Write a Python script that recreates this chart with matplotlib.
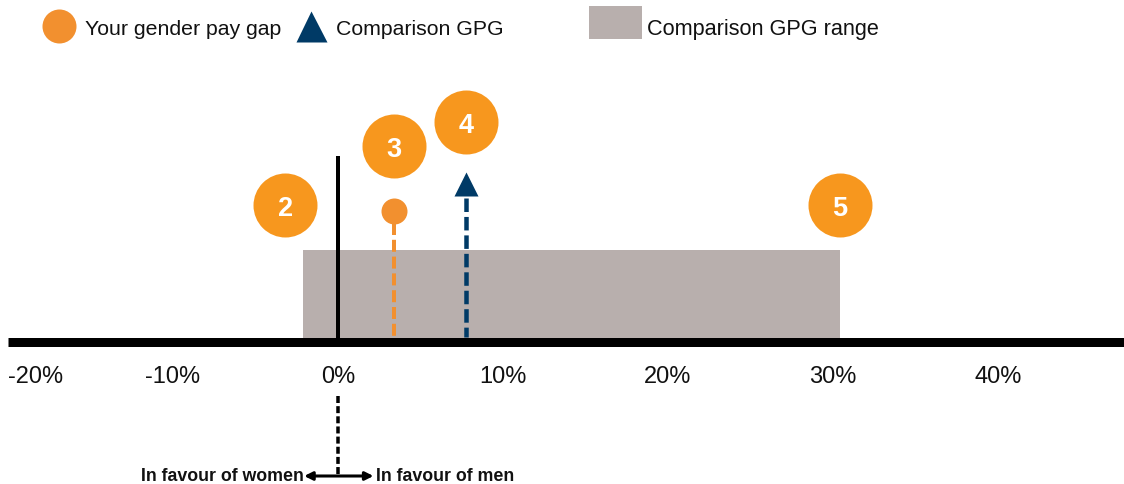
import matplotlib
matplotlib.use('Agg')
import matplotlib.pyplot as plt
from matplotlib.patches import Rectangle

# ---------------- data ----------------
tick_values = [-20, -10, 0, 10, 20, 30, 40]
tick_labels = ['-20%', '-10%', '0%', '10%', '20%', '30%', '40%']
your_gpg = 3.4
comparison_gpg = 7.75
comparison_range = [-2.1, 30.4]
legend_labels = ['Your gender pay gap', 'Comparison GPG', 'Comparison GPG range']
step_labels = ['2', '3', '4', '5']
direction_labels = ['In favour of women', 'In favour of men']

# ---------------- style ----------------
ORANGE = '#F7971E'
DOT_ORANGE = '#F2902F'
NAVY = '#003A66'
GREY = '#B8AFAD'
PT = 72 / 100.0  # px -> pt at dpi 100

plt.rcParams['font.family'] = ['Liberation Sans', 'DejaVu Sans']

W, H = 1124, 485
fig = plt.figure(figsize=(W / 100, H / 100), dpi=100)
ax = fig.add_axes([0, 0, 1, 1])
px_per_pct = 16.5
zero_px = 338
xmin, xmax = -zero_px / px_per_pct, (W - zero_px) / px_per_pct
ax.set_xlim(xmin, xmax)
ax.set_ylim(H, 0)
ax.axis('off')

# comparison range box
ax.add_patch(Rectangle((comparison_range[0], 251), comparison_range[1] - comparison_range[0],
                       342 - 251, facecolor=GREY, edgecolor='none', zorder=1))
# main axis line
ax.plot([tick_values[0], xmax], [342.5, 342.5], color='black', lw=9 * PT,
        solid_capstyle='butt', zorder=5)
# zero line
ax.plot([0, 0], [157, 340], color='black', lw=4 * PT, solid_capstyle='butt', zorder=3)

# your gpg
ax.plot([your_gpg, your_gpg], [224, 338], color=DOT_ORANGE, lw=4 * PT,
        dashes=(3, 1.2), dash_capstyle='butt', zorder=3)
ax.plot(your_gpg, 212, 'o', ms=26 * PT, color=DOT_ORANGE, mec='none', zorder=4)

# comparison gpg
ax.plot([comparison_gpg, comparison_gpg], [199, 338], color=NAVY, lw=4.5 * PT,
        dashes=(3, 1.1), dash_capstyle='butt', zorder=3)
ax.plot(comparison_gpg, 184.5, '^', ms=24 * PT, color=NAVY, mec='none', zorder=4)

# numbered step circles
step_x = [comparison_range[0] - 1.1, your_gpg, comparison_gpg, comparison_range[1]]
step_y = [206, 147, 123, 206]
for sx, sy, lab in zip(step_x, step_y, step_labels):
    ax.plot(sx, sy, 'o', ms=64 * PT, color=ORANGE, mec='none', zorder=6)
    ax.text(sx, sy + 10, lab, color='white', fontsize=19.5, fontweight='bold',
            ha='center', va='baseline', zorder=7)

# tick labels
for v, lab in zip(tick_values, tick_labels):
    ax.text(v, 383, lab, ha='left' if v == tick_values[0] else 'center',
            va='baseline', fontsize=17, color='#111111')

# direction annotation
ax.plot([0, 0], [397, 476], color='black', lw=3.5 * PT, dashes=(2, 0.9),
        dash_capstyle='butt')
ax.annotate('', xy=(-2.05, 477), xytext=(2.15, 477),
            arrowprops=dict(arrowstyle='<|-|>', lw=2.2, color='black',
                            mutation_scale=12, shrinkA=0, shrinkB=0))
ax.text(-2.05, 481, direction_labels[0], ha='right', va='baseline',
        fontsize=12.8, fontweight='bold', color='#111111')
ax.text(2.3, 481, direction_labels[1], ha='left', va='baseline',
        fontsize=12.8, fontweight='bold', color='#111111')

# legend (pixel overlay)
lay = fig.add_axes([0, 0, 1, 1])
lay.set_xlim(0, W)
lay.set_ylim(H, 0)
lay.axis('off')
lay.plot(59, 27, 'o', ms=34 * PT, color=DOT_ORANGE, mec='none')
lay.text(85, 35, legend_labels[0], fontsize=15.3, va='baseline', color='#111111')
lay.plot(311, 27, '^', ms=31 * PT, color=NAVY, mec='none')
lay.text(336, 35, legend_labels[1], fontsize=15.3, va='baseline', color='#111111')
lay.add_patch(Rectangle((589, 7), 53, 33, facecolor=GREY, edgecolor='none'))
lay.text(647, 35, legend_labels[2], fontsize=15.6, va='baseline', color='#111111')

fig.savefig('out.png', dpi=100)
